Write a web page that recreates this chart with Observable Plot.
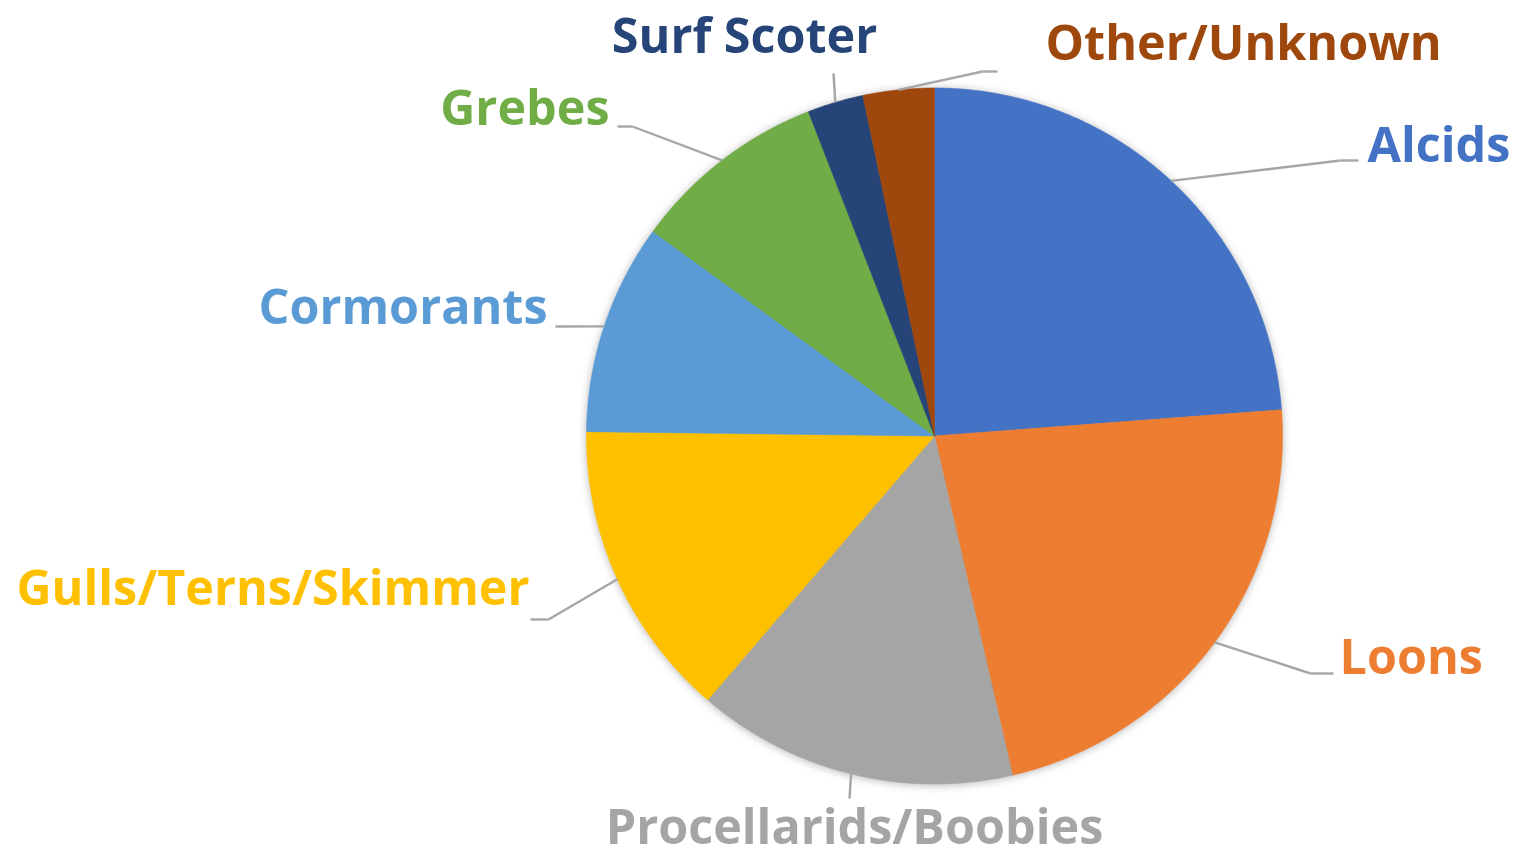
<!DOCTYPE html>
<html>
<head>
<meta charset="utf-8">
<script src="https://cdn.jsdelivr.net/npm/d3@7"></script>
<script src="https://cdn.jsdelivr.net/npm/@observablehq/plot@0.6"></script>
<style>
  html, body { margin: 0; padding: 0; background: #ffffff; }
  #chart svg { display: block; }
  #chart g[aria-label="line"] { filter: drop-shadow(0px 1px 4px rgba(0,0,0,0.28)); }
</style>
</head>
<body>
<div id="chart"></div>
<script>
// ---- Data (percent share of each group, clockwise from 12 o'clock) ----
const categories = ["Alcids", "Loons", "Procellarids/Boobies", "Gulls/Terns/Skimmer", "Cormorants", "Grebes", "Surf Scoter", "Other/Unknown"];
const shares = [23.8, 22.6, 14.9, 13.9, 9.8, 9.1, 2.6, 3.3];
const colors = ["#4472C4", "#ED7D31", "#A5A5A5", "#FFC000", "#5B9BD5", "#70AD47", "#264478", "#9E480E"];

// ---- Layout (label placement, leader elbows) ----
const W = 1532, H = 858;
const cx = 934, cy = 435.5, R = 348;
const labelLayout = {
  "Alcids":               {x: 1367, y: 146, anchor: "start",  path: [[1340, 160], [1358, 160]]},
  "Loons":                {x: 1339, y: 658, anchor: "start",  path: [[1310, 673], [1333, 673]]},
  "Procellarids/Boobies": {x: 854,  y: 828, anchor: "middle", path: [[849, 798]]},
  "Gulls/Terns/Skimmer":  {x: 529,  y: 589, anchor: "end",    path: [[548, 619], [530, 619]]},
  "Cormorants":           {x: 547,  y: 308, anchor: "end",    path: [[555, 326]]},
  "Grebes":               {x: 609,  y: 109, anchor: "end",    path: [[632, 126], [617, 126]]},
  "Surf Scoter":          {x: 744,  y: 37,  anchor: "middle", path: [[833, 73]]},
  "Other/Unknown":        {x: 1045, y: 44,  anchor: "start",  path: [[982, 71], [997, 71]]}
};

const data = categories.map((name, i) => ({name, value: shares[i]}));
const arcs = d3.pie().sort(null).value(d => d.value)(data);

const px = a => cx + R * Math.sin(a);
const py = a => cy - R * Math.cos(a);

// slice polygons
const slicePts = [];
for (const arc of arcs) {
  const name = arc.data.name;
  slicePts.push({name, x: cx, y: cy});
  const n = Math.max(4, Math.ceil((arc.endAngle - arc.startAngle) / (Math.PI / 360)));
  for (let k = 0; k <= n; k++) {
    const a = arc.startAngle + (arc.endAngle - arc.startAngle) * k / n;
    slicePts.push({name, x: px(a), y: py(a)});
  }
  slicePts.push({name, x: cx, y: cy});
}

// leader segments
const segs = [];
for (const arc of arcs) {
  const name = arc.data.name;
  const mid = (arc.startAngle + arc.endAngle) / 2;
  let prev = [px(mid), py(mid)];
  for (const p of labelLayout[name].path) {
    segs.push({name, x1: prev[0], y1: prev[1], x2: p[0], y2: p[1]});
    prev = p;
  }
}

const labels = data.map(d => ({name: d.name, x: labelLayout[d.name].x, y: labelLayout[d.name].y, anchor: labelLayout[d.name].anchor}));

const textOpts = anchor => ({
  x: "x", y: "y", text: "name", fill: "name",
  textAnchor: anchor, fontSize: 48.5, fontWeight: 700, fontFamily: "Open Sans"
});

const chart = Plot.plot({
  width: W, height: H,
  margin: 0,
  x: {domain: [0, W], range: [0, W], axis: null},
  y: {domain: [0, H], range: [0, H], axis: null},
  color: {domain: categories, range: colors},
  style: {background: "#ffffff", fontFamily: "Open Sans"},
  marks: [
    Plot.line(slicePts, {x: "x", y: "y", z: "name", fill: "name", stroke: "name", strokeWidth: 0.6, curve: "linear"}),
    Plot.link(segs, {x1: "x1", y1: "y1", x2: "x2", y2: "y2", stroke: "#A6A6A6", strokeWidth: 2.4}),
    Plot.text(labels.filter(d => d.anchor === "start"), textOpts("start")),
    Plot.text(labels.filter(d => d.anchor === "middle"), textOpts("middle")),
    Plot.text(labels.filter(d => d.anchor === "end"), textOpts("end"))
  ]
});
document.getElementById("chart").appendChild(chart);
</script>
</body>
</html>
